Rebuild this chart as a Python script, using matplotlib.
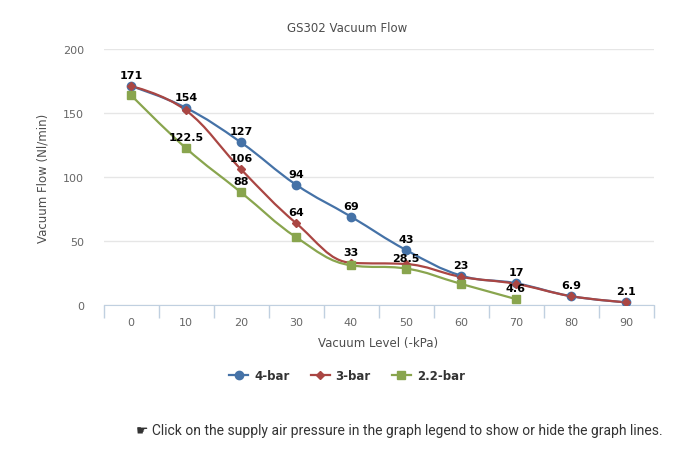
import numpy as np
import matplotlib.pyplot as plt
from matplotlib.path import Path
from matplotlib.patches import PathPatch
from matplotlib.lines import Line2D

# chart data
levels = [0, 10, 20, 30, 40, 50, 60, 70, 80, 90]
flow_4bar = [171, 154, 127, 94, 69, 43, 23, 17, 6.9, 2.1]
flow_3bar = [171, 152, 106, 64, 33, 32, 22, 16.5, 6.9, 2.1]
flow_22bar = [164, 122.5, 88, 53, 31, 28.5, 16.5, 4.6]
series_names = ['4-bar', '3-bar', '2.2-bar']
# which points got a visible data label (others were hidden by overlap)
labels_4bar = [0, 1, 2, 3, 4, 5, 6, 7, 8, 9]
labels_3bar = [2, 3, 4]
labels_22bar = [1, 2, 5, 7]
label_text = {'2.2-bar': {1: '122.5', 5: '28.5', 7: '4.6'}}

colors = ['#4572A7', '#AA4643', '#89A54E']
markers = ['o', 'D', 's']
msizes = [6, 4, 6]


def spline_path(x, y, smoothing=1.5):
    # highcharts-style spline: cubic bezier with smoothed control points
    denom = smoothing + 1
    n = len(x)
    verts = [(x[0], y[0])]
    codes = [Path.MOVETO]
    right_prev = (x[0], y[0])
    for i in range(1, n):
        px, py = x[i], y[i]
        if i < n - 1:
            lx, ly = x[i - 1], y[i - 1]
            nx, ny = x[i + 1], y[i + 1]
            lcx = (smoothing * px + lx) / denom
            lcy = (smoothing * py + ly) / denom
            rcx = (smoothing * px + nx) / denom
            rcy = (smoothing * py + ny) / denom
            if rcx != lcx:
                corr = (rcy - lcy) * (rcx - px) / (rcx - lcx) + py - rcy
                lcy += corr
                rcy += corr
            if lcy > ly and lcy > py:
                lcy = max(ly, py)
                rcy = 2 * py - lcy
            elif lcy < ly and lcy < py:
                lcy = min(ly, py)
                rcy = 2 * py - lcy
            if rcy > ny and rcy > py:
                rcy = max(ny, py)
                lcy = 2 * py - rcy
            elif rcy < ny and rcy < py:
                rcy = min(ny, py)
                lcy = 2 * py - rcy
            left = (lcx, lcy)
            right = (rcx, rcy)
        else:
            left = (px, py)
            right = (px, py)
        verts += [right_prev, left, (px, py)]
        codes += [Path.CURVE4] * 3
        right_prev = right
    return Path(verts, codes)


fig = plt.figure(figsize=(6.95, 4.52), dpi=100)
W, H = 695, 452
ax = fig.add_axes([103.5 / W, (H - 306) / H, 550 / W, 256 / H])

all_series = [flow_4bar, flow_3bar, flow_22bar]
all_labels = [labels_4bar, labels_3bar, labels_22bar]
for k, vals in enumerate(all_series):
    xs = np.arange(len(vals), dtype=float)
    ys = np.array(vals, dtype=float)
    p = spline_path(xs, ys)
    ax.add_patch(PathPatch(p, fill=False, edgecolor=colors[k], lw=1.6, zorder=2 + k * 0.1))
    ax.plot(xs, ys, ls='none', marker=markers[k], ms=msizes[k], color=colors[k],
            mec=colors[k], zorder=3 + k * 0.1)
    for i in all_labels[k]:
        txt = label_text.get(series_names[k], {}).get(i, '%g' % vals[i])
        ax.annotate(txt, (xs[i], ys[i]), xytext=(0, 6), textcoords='offset pixels',
                    ha='center', va='bottom', fontsize=8, fontweight='bold',
                    color='#000000', zorder=5)

ax.set_xlim(-0.5, 9.5)
ax.set_ylim(0, 200)
ax.set_yticks([0, 50, 100, 150, 200])
ax.yaxis.grid(True, color='#e6e6e6', lw=1)
ax.set_axisbelow(True)
ax.set_xticks(range(len(levels)))
ax.set_xticklabels([str(v) for v in levels])
ax.set_xticks(np.arange(-0.5, 10, 1), minor=True)
ax.tick_params(axis='x', which='major', length=0, pad=9, labelsize=8, labelcolor='#666666')
ax.tick_params(axis='x', which='minor', length=9, color='#C0D0E0', width=1)
ax.tick_params(axis='y', length=0, pad=14, labelsize=8, labelcolor='#666666')
for s in ['top', 'right', 'left']:
    ax.spines[s].set_visible(False)
ax.spines['bottom'].set_color('#C0D0E0')

ax.set_xlabel('Vacuum Level (-kPa)', fontsize=8.5, color='#4d4d4d', labelpad=6)
ax.set_ylabel('Vacuum Flow (Nl/min)', fontsize=8.5, color='#4d4d4d', labelpad=10)
fig.text(347 / W, 1 - 28 / H, 'GS302 Vacuum Flow', ha='center', va='center',
         fontsize=8.5, color='#4d4d4d')

handles = [Line2D([], [], color=colors[k], lw=1.6, marker=markers[k], ms=msizes[k])
           for k in range(3)]
fig.legend(handles, series_names, loc='center', bbox_to_anchor=(347 / W, 1 - 377 / H),
           ncol=3, frameon=False, prop={'weight': 'bold', 'size': 8.5},
           labelcolor='#333333', handlelength=1.6, columnspacing=1.8, handletextpad=0.5)

fig.text(663 / W, 1 - 431 / H,
         '\u261b Click on the supply air pressure in the graph legend to show or hide the graph lines.',
         ha='right', va='center', fontsize=10, color='#333333',
         family=['Roboto', 'DejaVu Sans'])

fig.savefig('out.png', dpi=100)
